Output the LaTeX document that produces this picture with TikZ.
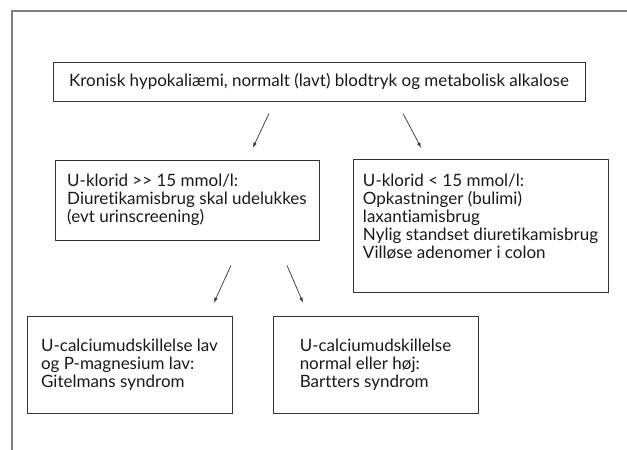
\documentclass[tikz,border=0pt]{standalone}
\usepackage{fontspec}
\setmainfont{Lato}[Ligatures=NoCommon]
\usetikzlibrary{calc}
\definecolor{myframe}{rgb}{0.50,0.50,0.50}
\definecolor{myline}{rgb}{0.20,0.20,0.20}
\begin{document}
\begin{tikzpicture}[x=1pt,y=-1pt,
    box/.style={draw=myline,line width=0.9pt,rectangle,align=left,inner sep=0pt,
      font=\fontsize{17}{18}\selectfont,text=black!90},
    arr/.style={myline,line width=0.7pt,-latex}]

    \useasboundingbox (0,0) rectangle (627,450);
    % the page frame, cut at the right and bottom
    \draw [myframe,line width=1.2pt] (12,450) -- (12,11) -- (627,11);

    \node[box,minimum width=532pt,minimum height=39pt](start) at (319,81.5)
      {Kronisk hypokaliæmi, normalt (lavt) blodtryk og metabolisk alkalose};

    \node[box,minimum width=264pt,minimum height=80pt](hoej) at (187,200)
      {U-klorid >{}> 15 mmol/l:\\Diuretikamisbrug skal udelukkes\\(evt urinscreening)};
    \node[box,minimum width=255pt,minimum height=133pt](lav) at (480.5,225.5)
      {U-klorid < 15 mmol/l:\\Opkastninger (bulimi)\\laxantiamisbrug\\Nylig standset diuretikamisbrug\\Villøse adenomer i colon\\\mbox{}};

    \node[box,minimum width=205pt,minimum height=97pt](gitelman) at (129.5,364.5)
      {U-calciumudskillelse lav\\og P-magnesium lav:\\Gitelmans syndrom};
    \node[box,minimum width=205pt,minimum height=97pt](bartter) at (375.5,364.5)
      {U-calciumudskillelse\\normal eller høj:\\Bartters syndrom};

    \draw [arr] ([xshift=-50pt,yshift=-12pt]start.south) -- ([xshift=66pt,yshift=12pt]hoej.north);
    \draw [arr] ([xshift=84pt,yshift=-12pt]start.south) -- ([xshift=-59.5pt,yshift=11pt]lav.north);

    \draw [arr] ([xshift=44pt,yshift=-25pt]hoej.south) -- ([xshift=84.5pt,yshift=13pt]gitelman.north);
    \draw [arr] ([xshift=100pt,yshift=-25pt]hoej.south) -- ([xshift=-72.5pt,yshift=13pt]bartter.north);

\end{tikzpicture}
\end{document}
